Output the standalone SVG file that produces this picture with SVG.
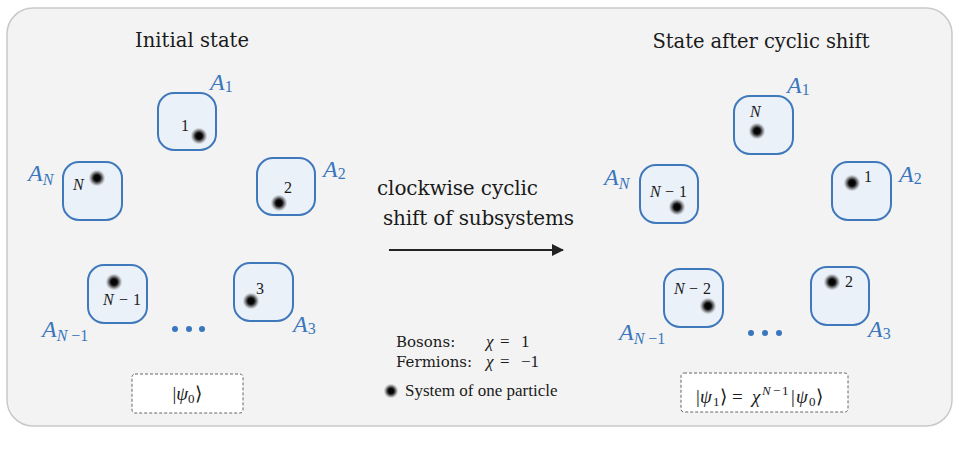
<svg xmlns="http://www.w3.org/2000/svg" width="960" height="450" viewBox="0 0 960 450">
<defs>
<radialGradient id="pg">
<stop offset="0" stop-color="#000"/>
<stop offset="0.38" stop-color="#0a0a0a"/>
<stop offset="0.65" stop-color="#3a3a3a" stop-opacity="0.65"/>
<stop offset="1" stop-color="#888" stop-opacity="0"/>
</radialGradient>
<marker id="ah" markerWidth="12" markerHeight="12" viewBox="0 0 12 12" refX="11" refY="6" orient="auto" markerUnits="userSpaceOnUse">
<path d="M0,0 L12,6 L0,12 Z" fill="#222"/>
</marker>
</defs>
<style>
.panel{fill:#f3f3f3;stroke:#c9c9c9;stroke-width:1.5}
.box{fill:#ebf1f9;stroke:#3f78bb;stroke-width:2}
.t{font-family:"Liberation Serif","Times New Roman",serif;fill:#1a1a1a}
.d{font-family:"DejaVu Serif","Liberation Serif",serif;fill:#1a1a1a}
.title{font-size:19.5px}
.mid{font-size:20px}
.in{font-size:16px}
.it{font-style:italic}
.lab{font-family:"Liberation Serif","Times New Roman",serif;fill:#3a76bd;font-style:italic;font-size:24px}
.sub{font-style:normal;font-size:16px}
.subi{font-style:italic;font-size:16px}
.state{fill:#fff;stroke:#666;stroke-width:1;stroke-dasharray:3 2}
.dot{fill:#3a76bd}
</style>
<rect class="panel" x="7" y="8" width="945" height="418" rx="26"/>
<text class="d title" x="192" y="47" text-anchor="middle" textLength="114">Initial state</text>
<text class="d title" x="761" y="48" text-anchor="middle" textLength="217">State after cyclic shift</text>

<g id="L_A1">
<rect class="box" x="158" y="93" width="58" height="57" rx="16"/>
<text class="t in" x="181" y="131">1</text>
<circle cx="199" cy="136" r="8.5" fill="url(#pg)"/>
<text class="lab" x="210" y="90">A<tspan class="sub" dy="2">1</tspan></text>
</g>
<g id="L_AN">
<rect class="box" x="63" y="162" width="59" height="58" rx="16"/>
<text class="t in it" x="73" y="190">N</text>
<circle cx="97" cy="178" r="8.5" fill="url(#pg)"/>
<text class="lab" x="28" y="181">A<tspan class="subi" dy="4">N</tspan></text>
</g>
<g id="L_A2">
<rect class="box" x="257" y="158" width="58" height="57" rx="16"/>
<text class="t in" x="284" y="193">2</text>
<circle cx="279" cy="203" r="8.5" fill="url(#pg)"/>
<text class="lab" x="323" y="177">A<tspan class="sub" dy="2">2</tspan></text>
</g>
<g id="L_AN1">
<rect class="box" x="88" y="265" width="59" height="58" rx="16"/>
<circle cx="114" cy="282" r="8.5" fill="url(#pg)"/>
<text class="t in" y="305"><tspan class="it" x="103">N</tspan><tspan x="119">−</tspan><tspan x="133">1</tspan></text>
<text class="lab" x="42" y="337">A<tspan class="subi" dy="4">N</tspan><tspan class="sub"> −1</tspan></text>
</g>
<g id="L_dots">
<circle class="dot" cx="175" cy="329" r="3"/>
<circle class="dot" cx="189" cy="329" r="3"/>
<circle class="dot" cx="202" cy="329" r="3"/>
</g>
<g id="L_A3">
<rect class="box" x="234" y="263" width="59" height="58" rx="16"/>
<text class="t in" x="256" y="294">3</text>
<circle cx="251" cy="301" r="8.5" fill="url(#pg)"/>
<text class="lab" x="293" y="332">A<tspan class="sub" dy="2">3</tspan></text>
</g>
<g id="psi0">
<rect class="state" x="132" y="374" width="111" height="39" rx="3"/>
<text class="t" font-size="19" x="187" y="400" text-anchor="middle">|<tspan class="it">ψ</tspan><tspan font-size="13" dy="3">0</tspan><tspan dy="-3">⟩</tspan></text>
</g>

<g id="R_A1">
<rect class="box" x="734" y="96" width="59" height="58" rx="16"/>
<text class="t in it" x="750" y="117">N</text>
<circle cx="757" cy="131" r="8.5" fill="url(#pg)"/>
<text class="lab" x="787" y="93">A<tspan class="sub" dy="2">1</tspan></text>
</g>
<g id="R_AN">
<rect class="box" x="640" y="165" width="58" height="58" rx="16"/>
<text class="t in" y="197"><tspan class="it" x="650">N</tspan><tspan x="665">−</tspan><tspan x="679">1</tspan></text>
<circle cx="677" cy="207" r="8.5" fill="url(#pg)"/>
<text class="lab" x="604" y="185">A<tspan class="subi" dy="4">N</tspan></text>
</g>
<g id="R_A2">
<rect class="box" x="832" y="162" width="59" height="58" rx="16"/>
<circle cx="852" cy="183" r="8.5" fill="url(#pg)"/>
<text class="t in" x="864" y="182">1</text>
<text class="lab" x="899" y="182">A<tspan class="sub" dy="2">2</tspan></text>
</g>
<g id="R_AN1">
<rect class="box" x="664" y="269" width="59" height="58" rx="16"/>
<text class="t in" y="294"><tspan class="it" x="674">N</tspan><tspan x="689">−</tspan><tspan x="703">2</tspan></text>
<circle cx="708" cy="306" r="8.5" fill="url(#pg)"/>
<text class="lab" x="619" y="340">A<tspan class="subi" dy="4">N</tspan><tspan class="sub"> −1</tspan></text>
</g>
<g id="R_dots">
<circle class="dot" cx="751" cy="333" r="3"/>
<circle class="dot" cx="765" cy="333" r="3"/>
<circle class="dot" cx="779" cy="333" r="3"/>
</g>
<g id="R_A3">
<rect class="box" x="811" y="267" width="58" height="58" rx="16"/>
<circle cx="832" cy="282" r="8.5" fill="url(#pg)"/>
<text class="t in" x="845" y="287">2</text>
<text class="lab" x="868" y="337">A<tspan class="sub" dy="2">3</tspan></text>
</g>
<g id="psi1">
<rect class="state" x="681" y="373" width="167" height="39" rx="3"/>
<text class="t" font-size="19" y="403"><tspan x="696">|</tspan><tspan class="it" x="700">ψ</tspan><tspan font-size="13" x="713" y="406">1</tspan><tspan x="720" y="403">⟩</tspan><tspan x="732">=</tspan><tspan class="it" x="752">χ</tspan><tspan font-size="13" class="it" x="762" y="395">N</tspan><tspan font-size="13" x="773" y="395">−</tspan><tspan font-size="13" x="782" y="395">1</tspan><tspan x="791" y="403">|</tspan><tspan class="it" x="796">ψ</tspan><tspan font-size="13" x="809" y="406">0</tspan><tspan x="816" y="403">⟩</tspan></text>
</g>

<g id="legend">
<text class="d" font-size="15" x="396" y="347">Bosons:</text>
<text class="t" font-size="17" y="347"><tspan class="it" x="486">χ</tspan><tspan x="500">=</tspan><tspan x="521">1</tspan></text>
<text class="d" font-size="15" x="396" y="367">Fermions:</text>
<text class="t" font-size="17" y="367"><tspan class="it" x="486">χ</tspan><tspan x="500">=</tspan><tspan x="521">−1</tspan></text>
<circle cx="391" cy="391" r="7.5" fill="url(#pg)"/>
<text class="t" font-size="17" x="405" y="396">System of one particle</text>
</g>

<g id="connectors">
<text class="d mid" x="377" y="195" textLength="161">clockwise cyclic</text>
<text class="d mid" x="383" y="225" textLength="191">shift of subsystems</text>
<line x1="389" y1="250" x2="563" y2="250" stroke="#222" stroke-width="2" marker-end="url(#ah)"/>
</g>
</svg>
